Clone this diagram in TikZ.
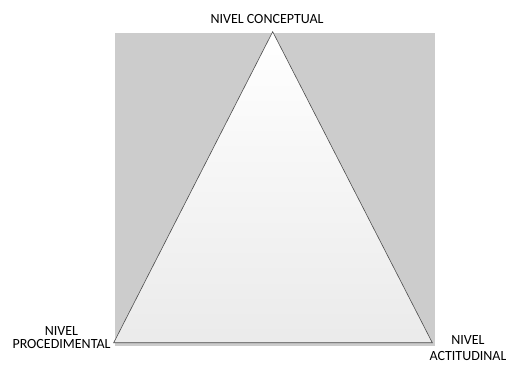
\documentclass[tikz,border=0pt]{standalone}
\usepackage{fontspec}
\setmainfont{Carlito}
\begin{document}
\begin{tikzpicture}[x=1pt,y=-1pt,
  lbl/.style={font=\fontsize{14}{13.5}\selectfont, inner sep=0pt, align=center, text=black},
  panel/.style={fill=black!20, draw=none},
  pyramid/.style={draw=black!70, line width=0.6pt, line join=miter, top color=white, bottom color=black!8}]
  \useasboundingbox (0,0) rectangle (506,365);
  % grey backdrop
  \fill[panel] (115,33) rectangle (435,346);
  % triangle vertices
  \coordinate (apex) at (272.7,31.7);
  \coordinate (bl) at (113.7,342.7);
  \coordinate (br) at (432.3,342.7);
  \shade[pyramid] (apex) -- (br) -- (bl) -- cycle;
  % level labels
  \node[lbl] (conc) at (267,19) {NIVEL CONCEPTUAL};
  \node[lbl] (proc) at (61.5,337.5) {NIVEL\\PROCEDIMENTAL};
  \node[lbl] (acti) at (468,348.5) {NIVEL\\[2.5pt]ACTITUDINAL};
\end{tikzpicture}
\end{document}
